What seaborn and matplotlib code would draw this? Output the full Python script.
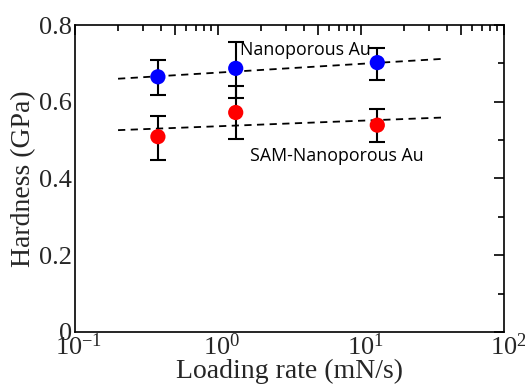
import numpy as np
import pandas as pd
import matplotlib
matplotlib.use("Agg")
import matplotlib.pyplot as plt
import matplotlib.ticker as mticker
import matplotlib.transforms as mtransforms
import seaborn as sns

# Data
loading_rate = [0.38, 1.33, 13.0]
np_au_hardness = [0.665, 0.687, 0.702]
np_au_err_low = [0.047, 0.077, 0.045]
np_au_err_high = [0.043, 0.070, 0.039]
sam_hardness = [0.509, 0.572, 0.539]
sam_err_low = [0.061, 0.070, 0.043]
sam_err_high = [0.055, 0.070, 0.042]
fit_x = [0.2, 38.0]
np_au_fit = [0.660, 0.712]
sam_fit = [0.526, 0.559]

sns.set_theme(style="white")
plt.rcParams['font.family'] = ['Liberation Serif', 'DejaVu Serif']
plt.rcParams['mathtext.fontset'] = 'stix'

fig = plt.figure(figsize=(5.25, 3.84), dpi=100)
ax = fig.add_axes([75/525, 1-332/384, (504-75)/525, (332-25)/384])

df_pts = pd.DataFrame({
    "rate": loading_rate * 2,
    "hardness": np_au_hardness + sam_hardness,
    "sample": ["Nanoporous Au"] * 3 + ["SAM-Nanoporous Au"] * 3,
})
df_fit = pd.DataFrame({
    "rate": fit_x * 2,
    "hardness": np_au_fit + sam_fit,
    "sample": ["Nanoporous Au"] * 2 + ["SAM-Nanoporous Au"] * 2,
})
palette = {"Nanoporous Au": "#0000ff", "SAM-Nanoporous Au": "#ff0000"}

sns.lineplot(data=df_fit, x="rate", y="hardness", hue="sample", palette={k: "black" for k in palette},
             ax=ax, legend=False, linewidth=1.3, linestyle=(0, (4, 3)))
ax.errorbar(loading_rate, np_au_hardness, yerr=[np_au_err_low, np_au_err_high], fmt="none",
            ecolor="black", elinewidth=1.5, capsize=6, capthick=1.5, zorder=3)
ax.errorbar(loading_rate, sam_hardness, yerr=[sam_err_low, sam_err_high], fmt="none",
            ecolor="black", elinewidth=1.5, capsize=6, capthick=1.5, zorder=3)
sns.scatterplot(data=df_pts, x="rate", y="hardness", hue="sample", palette=palette, ax=ax,
                legend=False, s=120, edgecolor="none", zorder=4)

ax.set_xscale("log")
ax.set_xlim(0.1, 100)
ax.set_ylim(0, 0.8)

major_x = [0.1, 0.5, 1, 5, 10, 50, 100]
ax.xaxis.set_major_locator(mticker.FixedLocator(major_x))
def fmt(v, pos):
    e = np.log10(v)
    if abs(e - round(e)) < 1e-6:
        e = int(round(e))
        return r"$\mathregular{10^{%d}}$" % e
    return ""
ax.xaxis.set_major_formatter(mticker.FuncFormatter(fmt))
minor_x = [m * 10.0**d for d in (-1, 0, 1) for m in (2, 3, 4, 6, 7, 8, 9)]
ax.xaxis.set_minor_locator(mticker.FixedLocator(minor_x))
ax.xaxis.set_minor_formatter(mticker.NullFormatter())

ax.yaxis.set_major_locator(mticker.MultipleLocator(0.2))
ax.yaxis.set_minor_locator(mticker.MultipleLocator(0.1))
ax.yaxis.set_major_formatter(mticker.FuncFormatter(lambda v, p: "0" if abs(v) < 1e-9 else f"{v:.1f}"))

ax.tick_params(which="both", direction="in", top=True, right=True, color="black", width=1.2)
ax.tick_params(which="major", length=7, labelsize=19)
ax.tick_params(axis="x", which="major", pad=1)
ax.tick_params(axis="y", which="major", pad=2)
ax.tick_params(which="minor", length=4)

# shift x tick labels so the "10" base sits nearly centred on the tick
shift = mtransforms.ScaledTranslation(4/100, 0, fig.dpi_scale_trans)
for t in ax.xaxis.get_major_ticks():
    t.label1.set_transform(t.label1.get_transform() + shift)

for s in ax.spines.values():
    s.set_color("black")
    s.set_linewidth(1.2)

ax.set_xlabel("Loading rate (mN/s)", fontsize=20, labelpad=-1)
ax.set_ylabel("Hardness (GPa)", fontsize=20, labelpad=2)

ax.text(240/525, 1-50/384, "Nanoporous Au", transform=fig.transFigure, fontsize=12.8,
        family=["Open Sans", "DejaVu Sans"], va="center", ha="left", color="black")
ax.text(250/525, 1-156/384, "SAM-Nanoporous Au", transform=fig.transFigure, fontsize=12.8,
        family=["Open Sans", "DejaVu Sans"], va="center", ha="left", color="black")

fig.savefig("out.png", dpi=100)
